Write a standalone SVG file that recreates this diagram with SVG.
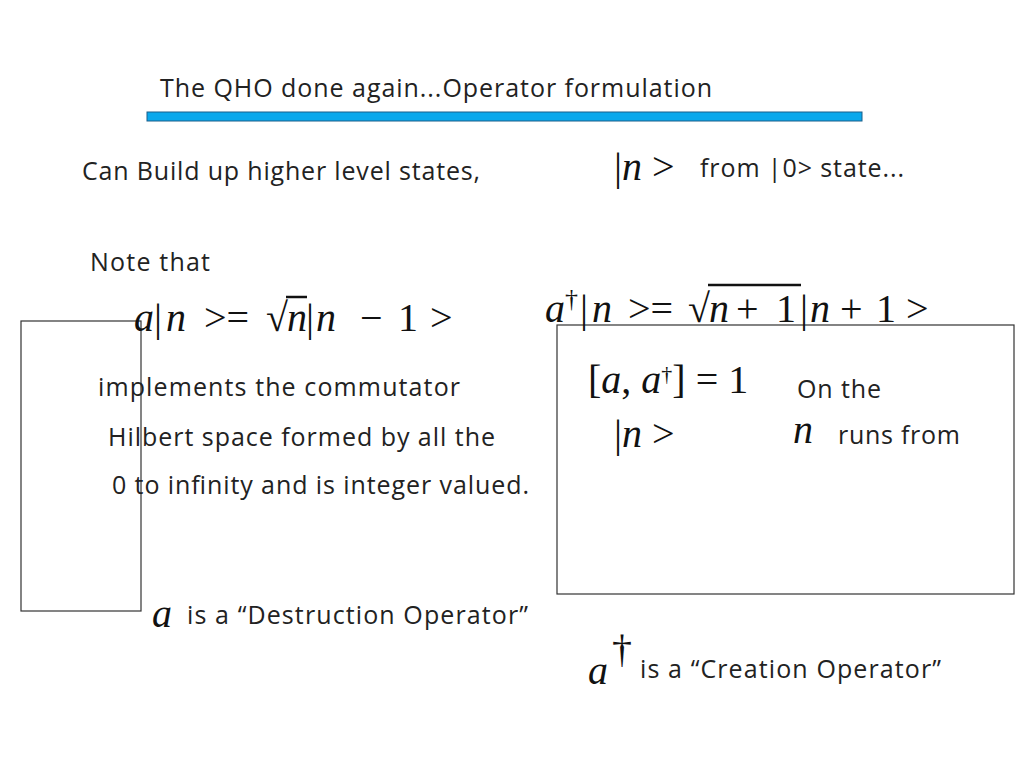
<svg xmlns="http://www.w3.org/2000/svg" width="1024" height="768" viewBox="0 0 1024 768">
<style>
.t{font-family:"Open Sans","Liberation Sans",sans-serif;font-size:25px;fill:#222}
.m{font-family:"Liberation Serif",serif;font-size:40px;fill:#111}
.i{font-style:italic}
.b{fill:none;stroke:#333;stroke-width:1.2}
.ol{stroke:#111;stroke-width:2.5}
</style>
<rect width="1024" height="768" fill="#fff"/>
<g id="title">
<text class="t" x="160" y="97" textLength="552">The QHO done again...Operator formulation</text>
<rect x="147" y="112" width="715" height="9" fill="#0aa8ec" stroke="#1b5e8a" stroke-width="1"/>
</g>
<g id="boxes">
<rect class="b" x="21" y="321" width="120" height="290"/>
<rect class="b" x="557" y="325" width="457" height="269"/>
</g>
<g id="texts">
<text class="m" x="614" y="180" font-size="28">|<tspan class="i">n</tspan> &gt;</text>
<text class="t" x="82" y="180" textLength="398">Can Build up higher level states,</text>
<text class="t" x="700" y="177" textLength="204">from |0&gt; state...</text>
<text class="t" x="90" y="271" textLength="120">Note that</text>
<text class="m" y="331"><tspan class="i" x="134">a</tspan><tspan x="154">|</tspan><tspan class="i" x="166">n</tspan><tspan x="204">&gt;=</tspan><tspan x="266">√</tspan><tspan class="i" x="287">n</tspan><tspan x="306">|</tspan><tspan class="i" x="316">n</tspan><tspan x="360">−</tspan><tspan x="398">1</tspan><tspan x="430">&gt;</tspan></text>
<line class="ol" x1="286" y1="297" x2="307" y2="297"/>
<text class="m" y="322"><tspan class="i" x="545">a</tspan><tspan x="565" font-size="26" dy="-15">†</tspan><tspan x="580" dy="15">|</tspan><tspan class="i" x="592">n</tspan><tspan x="628">&gt;=</tspan><tspan x="688">√</tspan><tspan class="i" x="709">n</tspan><tspan x="736">+</tspan><tspan x="776">1</tspan><tspan x="800">|</tspan><tspan class="i" x="810">n</tspan><tspan x="840">+</tspan><tspan x="876">1</tspan><tspan x="906">&gt;</tspan></text>
<line class="ol" x1="708" y1="285" x2="801" y2="285"/>
<text class="m" x="588" y="393" font-size="32">[<tspan class="i">a</tspan>, <tspan class="i">a</tspan><tspan font-size="22" dy="-12">†</tspan><tspan dy="12">] = 1</tspan></text>
<text class="t" x="98" y="396" textLength="362">implements the commutator</text>
<text class="t" x="797" y="398" textLength="84">On the</text>
<text class="t" x="108" y="446" textLength="387">Hilbert space formed by all the</text>
<text class="m" x="614" y="447" font-size="28">|<tspan class="i">n</tspan> &gt;</text>
<text class="m i" x="793" y="443" font-size="24">n</text>
<text class="t" x="838" y="444" textLength="122">runs from</text>
<text class="t" x="112" y="494" textLength="417">0 to infinity and is integer valued.</text>
<text class="m i" x="152" y="627" font-size="36">a</text>
<text class="t" x="187" y="624" textLength="341">is a “Destruction Operator”</text>
<text class="m i" x="588" y="684" font-size="40">a</text>
<text class="m" x="612" y="662" font-size="32">†</text>
<text class="t" x="640" y="678" textLength="301">is a “Creation Operator”</text>
</g>
</svg>
